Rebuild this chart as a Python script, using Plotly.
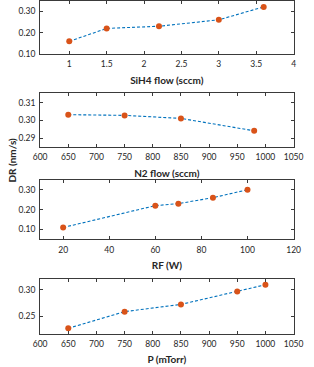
import plotly.graph_objects as go

W, H = 314, 367

sih4_x = [1, 1.5, 2.2, 3, 3.6]
sih4_y = [0.16, 0.22, 0.23, 0.26, 0.32]

n2_x = [650, 750, 850, 980]
n2_y = [0.3032, 0.3028, 0.3011, 0.2941]

rf_x = [20, 60, 70, 85, 100]
rf_y = [0.11, 0.22, 0.23, 0.26, 0.30]

p_x = [650, 750, 850, 950, 1000]
p_y = [0.228, 0.259, 0.2725, 0.2963, 0.309]

titles = ["SiH4 flow (sccm)", "N2 flow (sccm)", "RF (W)", "P (mTorr)"]
ylabel = "DR (nm/s)"

panels = [
    dict(x=sih4_x, y=sih4_y, xr=[0.61, 4], xt=[1, 1.5, 2, 2.5, 3, 3.5, 4],
         yr=[0.1, 0.346], yt=[0.10, 0.20, 0.30], fmt=".2f", top=1.3, bot=55),
    dict(x=n2_x, y=n2_y, xr=[600, 1050], xt=list(range(600, 1051, 50)),
         yr=[0.2848, 0.3152], yt=[0.29, 0.30, 0.31], fmt=".2f", top=94.7, bot=149.3),
    dict(x=rf_x, y=rf_y, xr=[10, 120], xt=[20, 40, 60, 80, 100, 120],
         yr=[0.05, 0.348], yt=[0.10, 0.20, 0.30], fmt=".2f", top=182.7, bot=242.7),
    dict(x=p_x, y=p_y, xr=[600, 1050], xt=list(range(600, 1051, 50)),
         yr=[0.218, 0.32], yt=[0.25, 0.30], fmt=".2f", top=282.7, bot=338.3),
]

fig = go.Figure()
font = "Lato, Open Sans, sans-serif"
axcol = "#3a3a3a"
txtcol = "#262626"
x0, x1 = 35 / W, 303 / W

for i, p in enumerate(panels):
    n = "" if i == 0 else str(i + 1)
    fig.add_trace(go.Scatter(
        x=p["x"], y=p["y"], mode="lines+markers",
        line=dict(color="#0072BD", width=1.1, dash="3px,2px"),
        marker=dict(color="#D95319", size=6),
        xaxis="x" + n, yaxis="y" + n, showlegend=False, cliponaxis=False))
    common = dict(showline=True, linecolor=axcol, linewidth=1, mirror="ticks",
                  ticks="inside", ticklen=3, tickcolor=axcol, showgrid=False,
                  zeroline=False, tickfont=dict(family=font, size=8.5, color=txtcol))
    fig.layout["xaxis" + n] = dict(
        domain=[x0, x1], range=p["xr"], tickvals=p["xt"], anchor="y" + n,
        ticklabelstandoff=2,
        title=dict(text="<b>" + titles[i] + "</b>", font=dict(family=font, size=10, color=txtcol), standoff=8),
        **common)
    fig.layout["yaxis" + n] = dict(
        domain=[1 - p["bot"] / H, 1 - p["top"] / H], range=p["yr"], tickvals=p["yt"],
        ticklabelstandoff=2,
        tickformat=p["fmt"], anchor="x" + n, **common)

fig.add_annotation(text="<b>" + ylabel + "</b>", xref="paper", yref="paper",
                   x=5 / W, y=1 - 162 / H, textangle=-90, showarrow=False,
                   font=dict(family=font, size=10, color=txtcol),
                   xanchor="center", yanchor="middle")

fig.update_layout(width=W, height=H, margin=dict(l=0, r=0, t=0, b=0),
                  paper_bgcolor="white", plot_bgcolor="white")
fig.write_html("out.html",
               config={"displayModeBar": False, "responsive": False},
               post_script="document.body.style.margin='0';document.body.style.overflow='hidden';")
